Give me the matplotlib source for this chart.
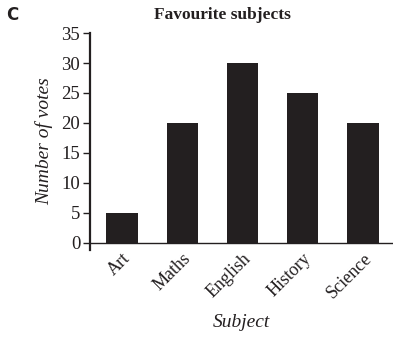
import matplotlib
matplotlib.use("Agg")
import matplotlib.pyplot as plt
import matplotlib.transforms as mtransforms

subjects = ["Art", "Maths", "English", "History", "Science"]
votes = [5, 20, 30, 25, 20]
yticks = [0, 5, 10, 15, 20, 25, 30, 35]

plt.rcParams['font.family'] = ['Liberation Serif', 'DejaVu Serif']
ink = "#231f20"

fig = plt.figure(figsize=(3.93, 3.37), dpi=100)
ax = fig.add_axes([0.229, 0.258, 0.771, 0.644])
ax.spines['top'].set_visible(False)
ax.spines['right'].set_visible(False)
ax.spines['bottom'].set_position(('data', 0))
x = list(range(len(subjects)))
ax.bar(x, votes, width=0.52, color=ink)
ax.set_xlim(-0.53, 4.5)
ax.set_ylim(-1.2, 35)
ax.set_yticks(yticks)
ax.set_yticklabels([str(v) for v in yticks], fontsize=13.5, color=ink)
ax.set_xticks(x)
ax.set_xticklabels(subjects, rotation=45, ha="right", va="top", rotation_mode="anchor", fontsize=13, color=ink)
offset = mtransforms.ScaledTranslation(6 / 100, 0, fig.dpi_scale_trans)
for lab in ax.get_xticklabels():
    lab.set_transform(lab.get_transform() + offset)
ax.spines['left'].set_linewidth(1.6)
ax.spines['bottom'].set_linewidth(1.0)
ax.spines['left'].set_color(ink)
ax.spines['bottom'].set_color(ink)
ax.tick_params(axis='y', length=5, width=1, color=ink, pad=2)
ax.tick_params(axis='x', length=0, pad=5)
ax.set_ylabel("Number of votes", fontsize=14, style="italic", color=ink, labelpad=6)
ax.set_xlabel("Subject", fontsize=14, style="italic", color=ink, labelpad=9)
fig.text(0.565, 0.955, "Favourite subjects", ha="center", va="center", fontsize=12.5, weight="bold", color=ink)
fig.text(0.016, 0.955, "C", ha="left", va="center", fontsize=12, weight="bold", color=ink, family="Liberation Sans Narrow")
fig.savefig("out.png", dpi=100)
